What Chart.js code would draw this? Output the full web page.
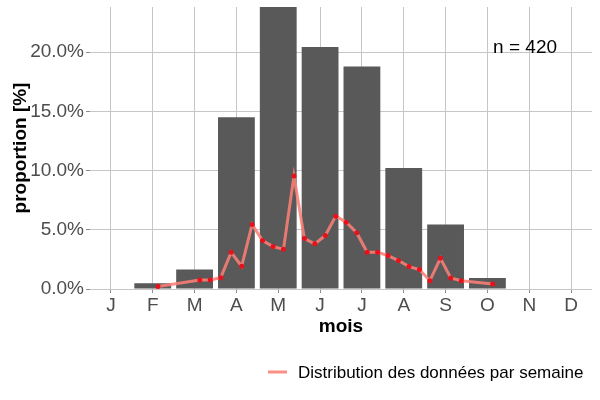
<!DOCTYPE html>
<html lang="fr">
<head>
    <meta charset="UTF-8">
    <title>Proportion par mois</title>
    <script src="https://cdn.jsdelivr.net/npm/chart.js@4"></script>
    <style>
        body { margin: 0; background: #fff; }
        #wrap { width: 600px; height: 400px; }
    </style>
</head>
<body>
    <div id="wrap"><canvas id="chart" width="600" height="400"></canvas></div>
    <script>
        // Données mensuelles (barres)
        const mois = ['J', 'F', 'M', 'A', 'M', 'J', 'J', 'A', 'S', 'O', 'N', 'D'];
        const proportionMois = [0, 0.48, 1.64, 14.49, 23.8, 20.42, 18.78, 10.22, 5.45, 0.93, 0, 0];

        // Données hebdomadaires (ligne) : position en mois (0 = janvier) et proportion
        const semaineX = [1.125,
            2.125, 2.375, 2.625, 2.875,
            3.125, 3.375, 3.625, 3.875,
            4.125, 4.375, 4.625, 4.875,
            5.125, 5.375, 5.625, 5.875,
            6.125, 6.375, 6.625, 6.875,
            7.125, 7.375, 7.625, 7.875,
            8.125, 8.375,
            9.125];
        const proportionSemaine = [0.22,
            0.76, 0.76, 0.96, 3.10,
            1.92, 5.45, 4.09, 3.58,
            3.36, 9.54, 4.26, 3.81,
            4.52, 6.15, 5.64, 4.75,
            3.10, 3.10, 2.82, 2.40,
            1.89, 1.64, 0.70, 2.59,
            0.93, 0.70,
            0.42];

        const yTicks = [0, 5, 10, 15, 20];
        const yMax = 23.8;
        const nTotal = 420;

        const police = '"Liberation Sans", Arial, sans-serif';
        const gris = '#4D4D4D';
        const grille = '#C6C6C6';

        // Légende et annotation "n = ..."
        const extras = {
            id: 'extras',
            afterDraw(chart) {
                const ctx = chart.ctx;
                const ds = chart.data.datasets[0];
                ctx.save();
                // annotation
                ctx.font = '19px ' + police;
                ctx.fillStyle = '#000';
                ctx.textAlign = 'center';
                ctx.textBaseline = 'middle';
                ctx.fillText('n = ' + nTotal, chart.scales.xs.getPixelForValue(9.9), chart.scales.y.getPixelForValue(20.4));
                // légende
                ctx.strokeStyle = ds.borderColor;
                ctx.lineWidth = 3;
                ctx.beginPath();
                ctx.moveTo(268, 372);
                ctx.lineTo(287, 372);
                ctx.stroke();
                ctx.font = '17px ' + police;
                ctx.textAlign = 'left';
                ctx.fillText(ds.label, 298, 373);
                ctx.restore();
            }
        };

        new Chart(document.getElementById('chart'), {
            data: {
                labels: mois,
                datasets: [
                    {
                        type: 'line',
                        label: 'Distribution des données par semaine',
                        data: semaineX.map((x, i) => ({ x: x, y: proportionSemaine[i] })),
                        xAxisID: 'xs',
                        borderColor: 'rgba(250,128,120,0.88)',
                        borderWidth: 3,
                        pointRadius: 2.5,
                        pointBorderWidth: 0,
                        pointBackgroundColor: '#E8101A',
                        tension: 0,
                        order: 0
                    },
                    {
                        type: 'bar',
                        label: 'proportion',
                        data: proportionMois,
                        xAxisID: 'x',
                        backgroundColor: '#595959',
                        grouped: false,
                        barPercentage: 0.88,
                        categoryPercentage: 1,
                        order: 1
                    }
                ]
            },
            options: {
                responsive: false,
                animation: false,
                layout: { padding: { top: 7, right: 8, left: 0, bottom: 0 } },
                plugins: {
                    legend: { display: false },
                    tooltip: { enabled: false }
                },
                scales: {
                    x: {
                        type: 'category',
                        offset: true,
                        afterFit: s => { s.height = 111; s.paddingLeft = 0; s.paddingRight = 0; },
                        border: { display: false },
                        grid: { color: grille, offset: false, tickLength: 4, tickColor: '#8C8C8C' },
                        ticks: { color: gris, font: { family: police, size: 19 }, padding: 1, maxRotation: 0, autoSkip: false },
                        title: {
                            display: true, text: 'mois', color: '#000',
                            font: { family: police, size: 19, weight: 'bold' },
                            padding: { top: 0, bottom: 62 }
                        }
                    },
                    xs: {
                        type: 'linear',
                        display: false,
                        min: -0.5,
                        max: 11.5
                    },
                    y: {
                        min: 0,
                        max: yMax,
                        afterFit: s => { s.width = 90; s.paddingTop = 0; s.paddingBottom = 0; },
                        afterBuildTicks: s => { s.ticks = yTicks.map(v => ({ value: v })); },
                        border: { display: false },
                        grid: { color: grille, tickLength: 4, tickColor: '#8C8C8C' },
                        ticks: {
                            color: gris, font: { family: police, size: 19 }, padding: 2,
                            callback: v => v.toFixed(1) + '%'
                        },
                        title: {
                            display: true, text: 'proportion [%]', color: '#000',
                            font: { family: police, size: 19, weight: 'bold' },
                            padding: { top: 9, bottom: 0 }
                        }
                    }
                }
            },
            plugins: [extras]
        });
    </script>
</body>
</html>
